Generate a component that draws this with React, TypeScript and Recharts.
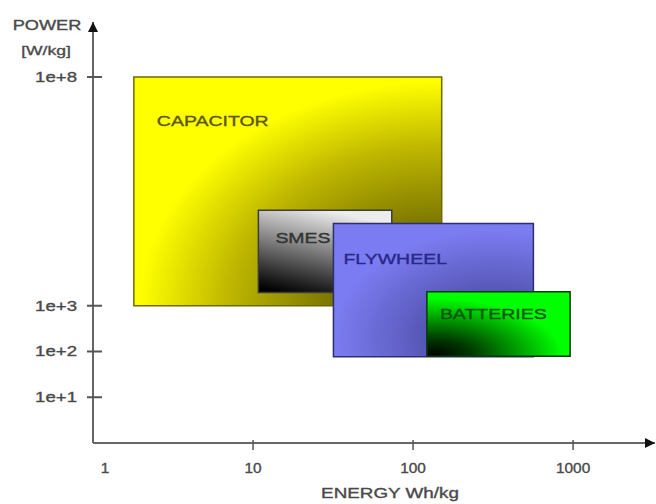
import React from 'react';
import { ComposedChart, XAxis, YAxis, ReferenceArea } from 'recharts';

// storage technologies, ranges
const techs = ['CAPACITOR', 'SMES', 'FLYWHEEL', 'BATTERIES'];
const energyLow = [1.8, 10.8, 31.8, 122];
const energyHigh = [151, 73.6, 565, 958];
const powerLow = [1000, 1950, 76.6, 79];
const powerHigh = [1e8, 122000, 62700, 2010];

const energyTicks = [1, 10, 100, 1000];
const powerTicks = [10, 100, 1000, 1e8];
const powerTickLabels = ['1e+1', '1e+2', '1e+3', '1e+8'];

const energyDomain = [1, 3250];
const powerDomain = [1, 1.59e9];

const FONT = '"Liberation Sans", Arial, sans-serif';
const AXIS = '#666';
const LABEL = '#4a4a4a';

const boxLook = [
  { fill: 'url(#gCap)', stroke: '#6e6a00', text: '#5a5700', dx: 23, dy: 44 },
  { fill: 'url(#gSmes)', stroke: '#3c3c3c', text: '#333333', dx: 17, dy: 28 },
  { fill: 'url(#gFly)', stroke: '#2e2e6e', text: '#28288a', dx: 10, dy: 35 },
  { fill: 'url(#gBat)', stroke: '#0a3a0a', text: '#0a560a', dx: 13, dy: 22 },
];

// the source image is stretched sideways, so text is too
const Txt = ({ x, y, sx = 1.3, anchor = 'start', size = 14, color = LABEL, children }: any) => (
  <text
    transform={`translate(${x},${y}) scale(${sx},1)`}
    textAnchor={anchor}
    fontSize={size}
    fill={color}
    stroke={color}
    strokeWidth={0.35}
    fontFamily={FONT}
  >
    {children}
  </text>
);

const PowerTick = (props: any) => {
  const { x, y, payload } = props;
  const i = powerTicks.indexOf(payload.value);
  return (
    <g>
      <line x1={x + 10} x2={x + 25} y1={y} y2={y} stroke="#555" strokeWidth={2} />
      <Txt x={x} y={y + 5} anchor="end" sx={1.33}>{powerTickLabels[i]}</Txt>
    </g>
  );
};

const EnergyTick = (props: any) => {
  const { x, y, payload } = props;
  const first = payload.value === energyTicks[0];
  return (
    <g>
      {!first && <line x1={x} x2={x} y1={y - 3} y2={y + 7} stroke="#555" strokeWidth={1.5} />}
      <Txt x={first ? x + 12 : x} y={y + 30} anchor="middle" sx={1.1} size={14}>
        {payload.value}
      </Txt>
    </g>
  );
};

const boxLabel = (i: number) => (p: any) => {
  const vb = p.viewBox || p;
  const look = boxLook[i];
  return (
    <Txt x={vb.x + look.dx} y={vb.y + look.dy + 5} size={15} color={look.text}>
      {techs[i]}
    </Txt>
  );
};

export default function App() {
  return (
    <div style={{ position: 'absolute', left: 0, top: 0, background: '#fff' }}>
      <ComposedChart
        width={656}
        height={504}
        data={[]}
        margin={{ top: 22, right: 1, bottom: 0, left: 0 }}
      >
        <defs>
          <marker id="arrX" viewBox="0 0 10 10" refX="10" refY="5" markerWidth="10" markerHeight="10"
            markerUnits="userSpaceOnUse" orient="auto">
            <path d="M0,0 L10,5 L0,10 z" fill="#111" />
          </marker>
          <marker id="arrY" viewBox="0 0 10 10" refX="10" refY="5" markerWidth="10" markerHeight="10"
            markerUnits="userSpaceOnUse" orient="auto-start-reverse">
            <path d="M0,0 L10,5 L0,10 z" fill="#111" />
          </marker>
          <radialGradient id="gCap" cx="1" cy="1" r="1.4" fx="1" fy="1">
            <stop offset="0" stopColor="#5e5a00" />
            <stop offset="0.25" stopColor="#7a7500" />
            <stop offset="0.5" stopColor="#c0b800" />
            <stop offset="0.7" stopColor="#ffff00" />
            <stop offset="1" stopColor="#ffff00" />
          </radialGradient>
          <linearGradient id="gSmes" x1="0.15" y1="1" x2="0.5" y2="0">
            <stop offset="0" stopColor="#000000" />
            <stop offset="0.15" stopColor="#202020" />
            <stop offset="1" stopColor="#ececec" />
          </linearGradient>
          <radialGradient id="gFly" cx="0.8" cy="0.85" r="0.8">
            <stop offset="0" stopColor="#3a3a8a" />
            <stop offset="1" stopColor="#7c7cf2" />
          </radialGradient>
          <radialGradient id="gBat" cx="0.05" cy="1" r="0.9">
            <stop offset="0" stopColor="#000000" />
            <stop offset="0.3" stopColor="#003a00" />
            <stop offset="1" stopColor="#00ff00" />
          </radialGradient>
        </defs>

        <XAxis
          type="number"
          dataKey="e"
          scale="log"
          domain={energyDomain}
          allowDataOverflow
          ticks={energyTicks}
          height={61}
          tickLine={false}
          tickSize={0}
          tickMargin={0}
          tick={<EnergyTick />}
          axisLine={{ stroke: AXIS, strokeWidth: 2, markerEnd: 'url(#arrX)' }}
        />
        <YAxis
          type="number"
          dataKey="p"
          scale="log"
          domain={powerDomain}
          allowDataOverflow
          ticks={powerTicks}
          width={93}
          tickLine={false}
          tickSize={0}
          tickMargin={16}
          tick={<PowerTick />}
          axisLine={{ stroke: AXIS, strokeWidth: 2, markerStart: 'url(#arrY)' }}
        />

        {techs.map((t, i) => (
          <ReferenceArea
            key={t}
            x1={energyLow[i]}
            x2={energyHigh[i]}
            y1={powerLow[i]}
            y2={powerHigh[i]}
            fill={boxLook[i].fill}
            fillOpacity={1}
            stroke={boxLook[i].stroke}
            strokeWidth={1.5}
            label={boxLabel(i)}
          />
        ))}

        <Txt x={47} y={30} anchor="middle" size={14}>POWER</Txt>
        <Txt x={46} y={55} anchor="middle" size={13.5}>[W/kg]</Txt>
        <Txt x={390} y={498} anchor="middle" size={14.5}>ENERGY Wh/kg</Txt>
      </ComposedChart>
    </div>
  );
}
